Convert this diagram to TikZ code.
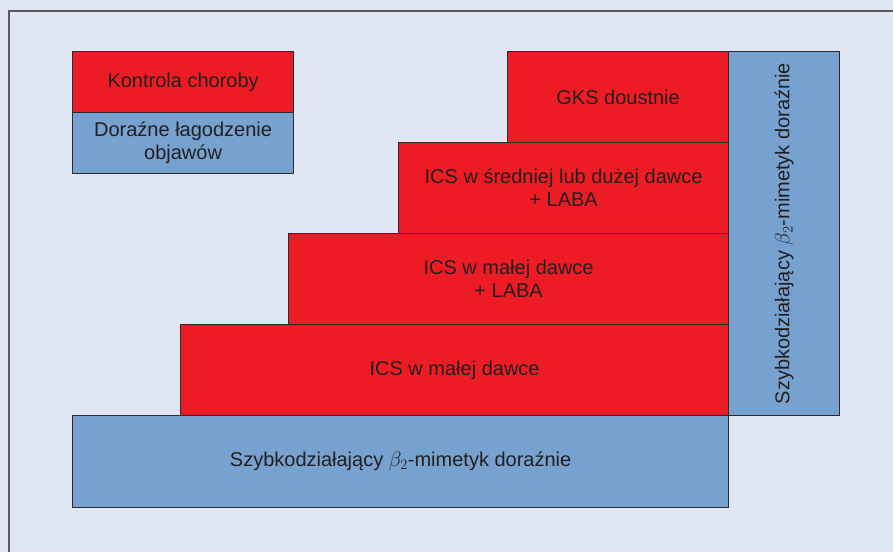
\documentclass[tikz,border=0pt]{standalone}
\usepackage{fontspec}
\setmainfont{Liberation Sans}
\definecolor{bgblue}{HTML}{E1E7F2}
\definecolor{boxred}{HTML}{ED1C24}
\definecolor{boxblue}{HTML}{77A1CE}
\definecolor{edgegrey}{HTML}{2B2B30}
\definecolor{framegrey}{HTML}{5A5A60}
\definecolor{textdark}{HTML}{231F20}
\tikzset{
    stepbox/.style={draw=edgegrey, line width=1.2pt, anchor=north west, inner sep=0pt,
            align=center, text=textdark, font=\fontsize{20}{23}\selectfont},
    redbox/.style={stepbox, fill=boxred},
    bluebox/.style={stepbox, fill=boxblue},
}

\begin{document}
\begin{tikzpicture}[x=1pt, y=-1pt]
        %background and frame
        \fill[bgblue] (0, 0) rectangle (893, 552);
        \useasboundingbox (0, 0) rectangle (893, 552);
        \draw[framegrey, line width=1.5pt] (9, 552) -- (9, 11) -- (893, 11);
        %legend
        \node[redbox, minimum width=221pt, minimum height=61pt] (kontrola) at (72, 51) {Kontrola choroby};
        \node[bluebox, minimum width=221pt, minimum height=61pt] (dorazne) at (72, 112) {Doraźne łagodzenie\\objawów};
        %steps
        \node[redbox, minimum width=221pt, minimum height=91pt] (gks) at (507, 51) {GKS doustnie};
        \node[redbox, minimum width=330pt, minimum height=91pt] (icsmid) at (398, 142) {ICS w średniej lub dużej dawce\\+ LABA};
        \node[redbox, minimum width=440pt, minimum height=91pt] (icslaba) at (288, 233) {ICS w małej dawce\\+ LABA};
        \node[redbox, minimum width=548pt, minimum height=91pt] (icslow) at (180, 324) {ICS w małej dawce};
        \node[bluebox, minimum width=656pt, minimum height=92pt] (saba) at (72, 415) {Szybkodziałający $\beta_2$-mimetyk doraźnie};
        %vertical reliever column
        \node[bluebox, minimum width=111pt, minimum height=364pt] (sabaside) at (728, 51) {};
        \node[rotate=90, text=textdark, font=\fontsize{20}{23}\selectfont] (sabatext) at (sabaside.center) {Szybkodziałający $\beta_2$-mimetyk doraźnie};
\end{tikzpicture}
\end{document}
